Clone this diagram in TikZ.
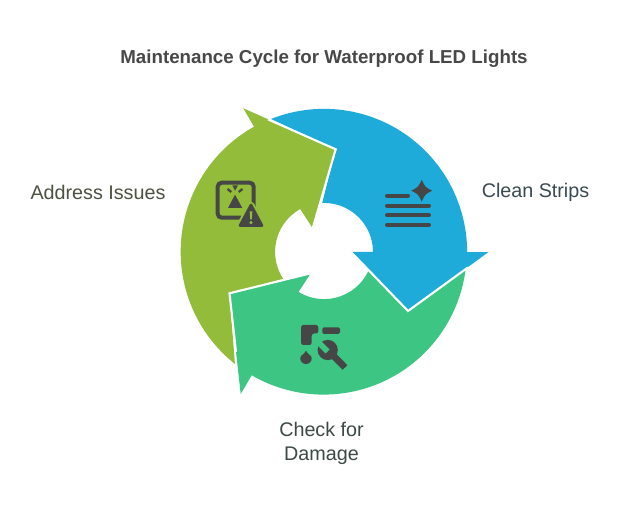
\documentclass[tikz,border=0pt]{standalone}
\usepackage{fontspec}
\setmainfont{Liberation Sans}
\definecolor{cblue}{HTML}{1EABDA}
\definecolor{cgreen}{HTML}{3CC583}
\definecolor{colive}{HTML}{92BC39}
\definecolor{icon}{HTML}{464646}
\definecolor{ttl}{HTML}{484848}
\definecolor{lblA}{HTML}{4C5240}
\definecolor{lblB}{HTML}{3B4A50}
\definecolor{lblC}{HTML}{3D4A44}
\tikzset{
  x=0.75pt,y=0.75pt,
  gap/.style={draw=white,line width=1.6pt,line join=miter,miter limit=10},
  label/.style={font=\fontsize{14.8pt}{18pt}\selectfont,align=center,inner sep=0pt},
  title/.style={font=\bfseries\fontsize{14.05pt}{18pt}\selectfont,text=ttl,inner sep=0pt},
  iconline/.style={draw=icon,line width=3pt,line cap=round},
}
\def\R{107.4pt}
\def\r{36.8pt}
\begin{document}
\begin{tikzpicture}
\useasboundingbox (0,0) rectangle (624,517);
\fill[white] (0,0) rectangle (624,517);
% centre is (324,265) in y-up pixels
% blue
\fill[cblue] (271,398)
  arc[start angle=111.7,end angle=0,radius=\R]
  -- (488.5,265) -- (408,206) -- (351,265) -- (373,265)
  arc[start angle=0,end angle=92,radius=\r]
  -- (335.7,367.7) -- cycle;
% olive
\fill[colive] (243.3,408.7) -- (254,390.3)
  arc[start angle=119.2,end angle=231.6,radius=\R]
  -- (229.5,223.7) -- (283.3,238)
  arc[start angle=213.6,end angle=119.2,radius=\r]
  -- (312.7,288.7) -- (335.7,367.7) -- cycle;
% green
\fill[cgreen] (240.7,123) -- (251.7,141.7)
  arc[start angle=239.9,end angle=353,radius=\R]
  -- (408,206) -- (368.7,246.7)
  arc[start angle=335.6,end angle=238.7,radius=\r]
  -- (310.7,243.7) -- (229.5,223.7) -- cycle;
% white seams
\draw[gap] (268,397.6) -- (335.7,367.7) -- (312.7,288.7);
\draw[gap] (351,265) -- (408,206) -- (468,249.6);
\draw[gap] (310.7,243.7) -- (229.5,223.7) -- (236,165);
% texts
\node[title] (ttlnode) at (324,458) {Maintenance Cycle for Waterproof LED Lights};
\node[label,text=lblB] (clean) at (535.5,324.5) {Clean Strips};
\node[label,text=lblA] (addr) at (98,325) {Address Issues};
\node[label,text=lblC] (check) at (321.5,73.5) {Check for\\Damage};
% clean icon
\foreach \yy in {311.3,301.7,292}{\draw[iconline] (387,\yy) -- (429,\yy);}
\draw[iconline] (387,321.3) -- (408,321.3);
\fill[icon] (421.7,337.2) .. controls (425.2,329.8) .. (432.2,326.3)
  .. controls (425.2,322.8) .. (421.7,315.4)
  .. controls (418.2,322.8) .. (411.2,326.3)
  .. controls (418.2,329.8) .. (421.7,337.2) -- cycle;
% address icon
\draw[icon,line width=3pt,rounded corners=3pt] (253.7,308) -- (253.7,334.3) -- (217.7,334.3) -- (217.7,299.3) -- (241,299.3);
\fill[icon] (232.3,331.7) -- (238,331.7) -- (235,326.3) -- cycle;
\fill[icon] (235,322.3) -- (242.3,309) -- (228,309) -- cycle;
\draw[icon,line width=1.7pt] (227.5,328) -- (231.3,325);
\draw[icon,line width=1.7pt] (242.5,328) -- (238.7,325);
\draw[colive,line width=5pt,line join=round] (251,312) -- (262,291.5) -- (240,291.5) -- cycle;
\draw[icon,fill=icon,line width=2pt,line join=round] (251,312) -- (262,291.5) -- (240,291.5) -- cycle;
\fill[colive] (249.7,305.5) -- (252.3,305.5) -- (251.8,297.5) -- (250.2,297.5) -- cycle;
\fill[colive] (251,294.3) circle[radius=1.3pt];
% check icon
\fill[icon,rounded corners=1.8pt] (301,192) -- (318.3,192) -- (318.3,183.5) -- (311.7,183.5) -- (311.7,172) -- (301,172) -- cycle;
\fill[icon,rounded corners=1.2pt] (322.3,189.7) rectangle (340,183);
\fill[icon] (306,166.3) .. controls (307.5,162.5) and (311.7,162) .. (311.7,158.7)
  arc[start angle=0,end angle=-180,radius=4.3pt]
  .. controls (300.3,162) and (304.5,162.5) .. (306,166.3) -- cycle;
\fill[icon] (327.7,167) circle[radius=7.6pt];
\draw[icon,line width=5pt] (328,166.7) -- (345,149.5);
\fill[cgreen] (329.5,167.5) -- (325.5,163.5) -- (315,174) -- (319,178) -- cycle;
\end{tikzpicture}
\end{document}
